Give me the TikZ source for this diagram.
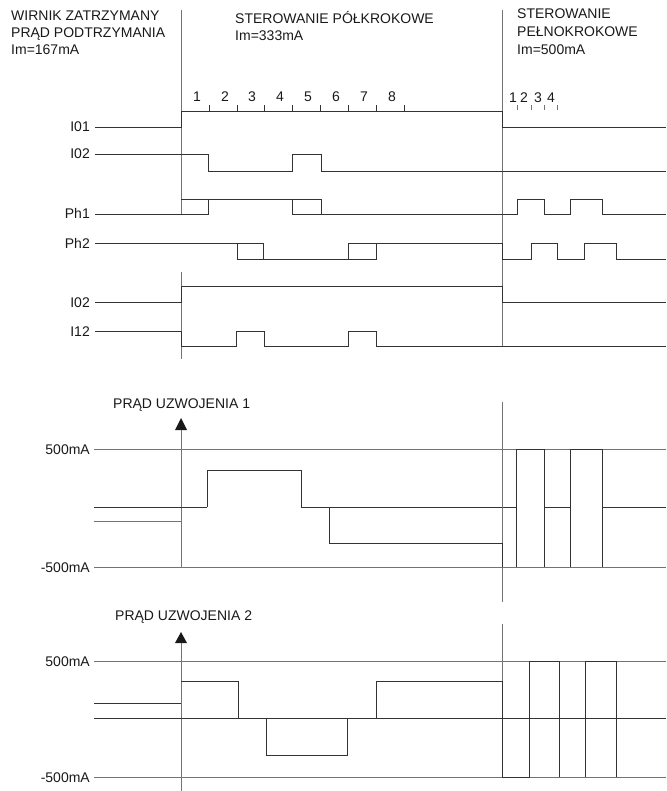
\documentclass[tikz,border=0pt]{standalone}
\usepackage{fontspec}
\setmainfont{Liberation Sans}
\begin{document}
\begin{tikzpicture}[x=1pt,y=-1pt,
  wave/.style={draw=black!80, line width=0.8pt},
  thin/.style={draw=black!55, line width=0.8pt},
  txt/.style={font=\fontsize{14}{17}\selectfont, inner sep=0pt, text=black!90},
  head/.style={fill=black!90}]
\useasboundingbox (0,0) rectangle (666,791);
% ---------- titles ----------
\node[txt, anchor=base west] (ta1) at (11,21) {WIRNIK ZATRZYMANY};
\node[txt, anchor=base west] (ta2) at (11,38) {PRĄD PODTRZYMANIA};
\node[txt, anchor=base west] (ta3) at (11,55) {Im=167mA};
\node[txt, anchor=base west] (tb1) at (235,24) {STEROWANIE PÓŁKROKOWE};
\node[txt, anchor=base west] (tb2) at (235,41) {Im=333mA};
\node[txt, anchor=base west] (tc1) at (517,19) {STEROWANIE};
\node[txt, anchor=base west] (tc2) at (517,37) {PEŁNOKROKOWE};
\node[txt, anchor=base west] (tc3) at (517,55) {Im=500mA};
% ---------- step numbers ----------
\foreach \n/\x in {1/197,2/225,3/252,4/280,5/308,6/336,7/364,8/392}
  \node[txt, anchor=base] (h\n) at (\x,102) {\n};
\foreach \n/\x in {1/513,2/524,3/538,4/551}
  \node[txt, anchor=base] (f\n) at (\x,103) {\n};
\foreach \x in {209,237,264,292,320,348,376,404}
  \draw[wave] (\x,105) -- (\x,111);
\foreach \x in {517,531,544,557}
  \draw[thin] (\x,105) -- (\x,110);
% ---------- signal labels ----------
\node[txt, anchor=base east] (l1) at (90,132) {I01};
\node[txt, anchor=base east] (l2) at (90,159) {I02};
\node[txt, anchor=base east] (l3) at (90,219) {Ph1};
\node[txt, anchor=base east] (l4) at (90,248) {Ph2};
\node[txt, anchor=base east] (l5) at (90,307) {I02};
\node[txt, anchor=base east] (l6) at (90,336) {I12};
% ---------- dividers ----------
\draw[thin] (181,10) -- (181,214);
\draw[thin] (502,10) -- (502,346);
\draw[thin] (181,272) -- (181,359);
% ---------- logic waves ----------
\draw[wave] (95,127) -- (181,127) -- (181,111) -- (502,111) -- (502,127) -- (666,127);
\draw[wave] (95,154) -- (208,154) -- (208,171) -- (292,171) -- (292,154) -- (321,154) -- (321,171) -- (666,171);
\draw[wave] (95,214) -- (208,214) -- (208,199);
\draw[wave] (181,199) -- (292,199) -- (292,214) -- (517,214) -- (517,199) -- (544,199) -- (544,214) -- (570,214) -- (570,199) -- (602,199) -- (602,214) -- (666,214);
\draw[wave] (292,199) -- (321,199) -- (321,214);
\draw[wave] (95,243) -- (263,243) -- (263,259);
\draw[wave] (237,243) -- (237,259) -- (376,259) -- (376,243);
\draw[wave] (348,259) -- (348,243) -- (502,243) -- (502,259) -- (531,259) -- (531,243) -- (557,243) -- (557,259) -- (584,259) -- (584,243) -- (616,243) -- (616,259) -- (666,259);
\draw[wave] (95,302) -- (181,302) -- (181,286) -- (502,286) -- (502,302) -- (666,302);
\draw[wave] (95,331) -- (181,331) -- (181,346) -- (236,346) -- (236,331) -- (264,331) -- (264,346) -- (348,346) -- (348,331) -- (376,331) -- (376,346) -- (666,346);
% ---------- winding 1 ----------
\node[txt, anchor=base west] (w1) at (113,408) {PRĄD UZWOJENIA 1};
\path[head] (181,418) -- (187,430) -- (175,430) -- cycle;
\draw[thin] (181,430) -- (181,567);
\node[txt, anchor=base east] (p1) at (90,454) {500mA};
\node[txt, anchor=base east] (m1) at (90,572) {-500mA};
\draw[thin] (94,449) -- (666,449);
\draw[thin] (94,567) -- (666,567);
\draw[wave] (94,507) -- (207,507);
\draw[wave] (301,507) -- (516,507);
\draw[wave] (544,507) -- (570,507);
\draw[wave] (602,507) -- (666,507);
\draw[thin] (94,521) -- (181,521);
\draw[thin] (502,402) -- (502,602);
\draw[wave] (207,507) -- (207,470) -- (301,470) -- (301,507);
\draw[wave] (329,507) -- (329,543) -- (502,543) -- (502,567);
\draw[wave] (516,567) -- (516,449) -- (544,449) -- (544,567);
\draw[wave] (570,567) -- (570,449) -- (602,449) -- (602,567);
% ---------- winding 2 ----------
\node[txt, anchor=base west] (w2) at (115,620) {PRĄD UZWOJENIA 2};
\path[head] (181,632) -- (187,643) -- (175,643) -- cycle;
\draw[thin] (181,643) -- (181,791);
\node[txt, anchor=base east] (p2) at (90,666) {500mA};
\node[txt, anchor=base east] (m2) at (90,782) {-500mA};
\draw[thin] (94,661) -- (666,661);
\draw[thin] (94,777) -- (666,777);
\draw[wave] (94,718) -- (666,718);
\draw[wave] (94,703) -- (181,703);
\draw[thin] (502,590) -- (502,602);
\draw[thin] (502,624) -- (502,777);
\draw[wave] (181,681) -- (238,681) -- (238,718);
\draw[wave] (266,718) -- (266,755) -- (347,755) -- (347,718);
\draw[wave] (376,718) -- (376,681) -- (502,681) -- (502,777) -- (529,777) -- (529,661) -- (559,661) -- (559,777);
\draw[wave] (585,777) -- (585,661) -- (616,661) -- (616,777);
\end{tikzpicture}
\end{document}
